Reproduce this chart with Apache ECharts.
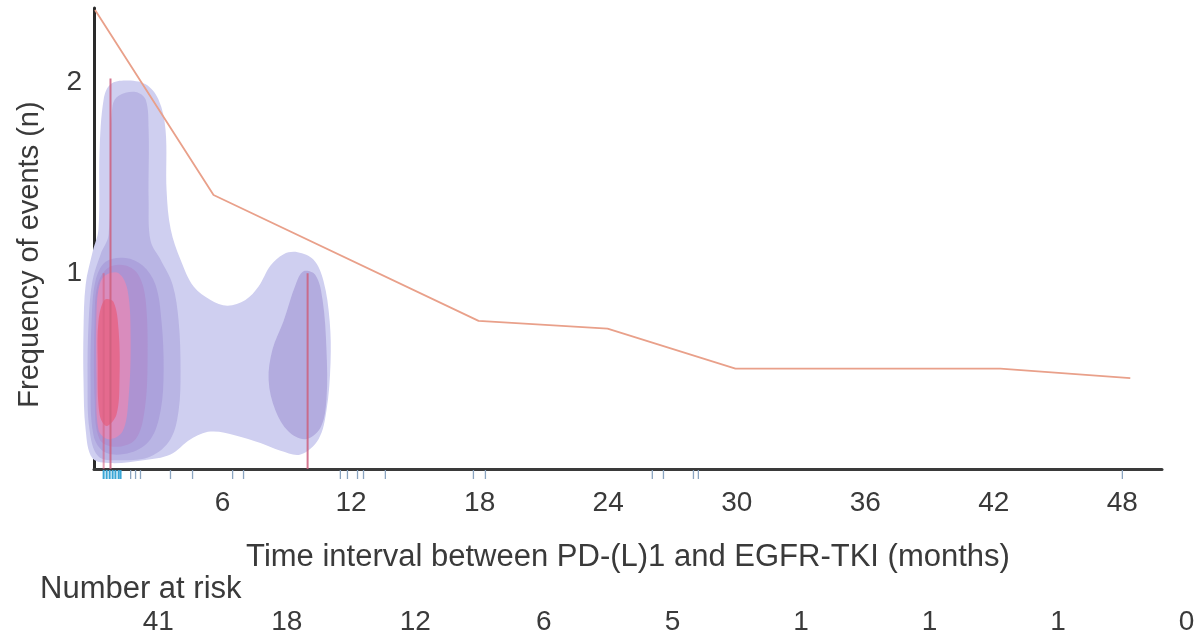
<!DOCTYPE html>
<html>
<head>
<meta charset="utf-8">
<script src="https://cdn.jsdelivr.net/npm/echarts@6/dist/echarts.min.js"></script>
<style>
html,body{margin:0;padding:0;background:#fff;}
#chart{width:1202px;height:636px;}
</style>
</head>
<body>
<div id="chart"></div>
<script>
// ---- data (months, frequency) ----
const xTicks = [6, 12, 18, 24, 30, 36, 42, 48];
const yTicks = [1, 2];

// cumulative-hazard style line
const lineMonths = [0.05, 5.58, 17.95, 23.97, 29.94, 42.3, 48.37];
const lineValues = [2.38, 1.41, 0.75, 0.71, 0.50, 0.50, 0.45];

// event spikes
const eventMonths = [0.77, 0.45, 9.97];
const eventFreq = [2.02, 1.0, 1.0];

// rug of observations
const rugBright = [0.45, 0.59, 0.73, 0.87, 1.0, 1.15, 1.24];
const rugPale = [1.71, 1.94, 2.17, 3.57, 4.6, 6.47, 6.98, 11.5, 11.83, 12.3, 12.58, 13.6,
                 17.71, 18.27, 26.06, 26.58, 27.98, 28.21, 48.0];

// density contours (outer -> inner)
const contour1 = [[1.47,2.01],[2.41,1.99],[3.01,1.91],[3.34,1.75],[3.39,1.43],[3.58,1.23],[4.04,1.07],
  [4.65,0.93],[5.44,0.86],[6.23,0.83],[7.07,0.86],[7.68,0.93],[8.24,1.04],[8.85,1.10],[9.50,1.11],
  [10.25,1.07],[10.71,0.96],[11.0,0.75],[11.04,0.53],[10.85,0.28],[10.48,0.13],[9.64,0.05],[8.71,0.07],
  [7.77,0.11],[6.61,0.15],[5.44,0.17],[4.51,0.13],[3.57,0.05],[2.31,0.02],[0.77,0.005],[-0.07,0.03],
  [-0.39,0.18],[-0.49,0.44],[-0.49,0.70],[-0.39,0.94],[-0.07,1.11],[0.21,1.23],[0.26,1.64],[0.45,1.91],[0.77,1.99]];
const contour2 = [[1.15,1.93],[1.94,1.95],[2.41,1.91],[2.55,1.75],[2.55,1.38],[2.64,1.17],[3.11,1.07],
  [3.67,0.94],[3.95,0.75],[4.04,0.49],[3.95,0.28],[3.57,0.13],[2.64,0.04],[1.24,0.02],[0.21,0.04],
  [-0.21,0.18],[-0.30,0.44],[-0.25,0.75],[-0.07,0.96],[0.31,1.10],[0.68,1.20],[0.77,1.64],[0.87,1.88]];
const contour2b = [[9.78,1.01],[10.34,0.99],[10.67,0.86],[10.85,0.60],[10.85,0.34],[10.57,0.19],[9.87,0.13],
  [9.08,0.17],[8.47,0.28],[8.15,0.44],[8.33,0.60],[8.85,0.75],[9.41,0.94]];
const contour3 = [[0.54,1.06],[1.47,1.08],[2.27,1.04],[2.87,0.94],[3.15,0.75],[3.25,0.49],[3.11,0.28],
  [2.64,0.13],[1.71,0.06],[0.54,0.06],[-0.02,0.15],[-0.16,0.44],[-0.11,0.75],[0.07,0.96]];
const contour4 = [[0.68,1.03],[1.47,1.04],[2.08,0.99],[2.41,0.86],[2.50,0.54],[2.36,0.28],[1.94,0.13],
  [1.01,0.09],[0.26,0.13],[0.03,0.34],[0.03,0.75],[0.17,0.94]];
const contour5 = [[0.54,0.99],[1.15,1.00],[1.57,0.91],[1.71,0.65],[1.61,0.34],[1.33,0.17],[0.68,0.13],
  [0.21,0.18],[0.12,0.44],[0.12,0.81],[0.26,0.94]];
const contour6 = [[0.49,0.86],[0.91,0.85],[1.15,0.70],[1.19,0.44],[1.05,0.26],[0.59,0.20],[0.26,0.26],
  [0.17,0.54],[0.21,0.75]];

// number at risk
const riskMonths = [3, 9, 15, 21, 27, 33, 39, 45, 51];
const riskCounts = [41, 18, 12, 6, 5, 1, 1, 1, 0];

// ---- styles ----
const FONT = "'Liberation Sans', Arial, Helvetica, sans-serif";
const TXT = '#3a3a3a';
const layers = [
  {pts: contour1, color: '#cfcff0'},
  {pts: contour2, color: '#b9b5e4'},
  {pts: contour2b, color: '#b3acdf'},
  {pts: contour3, color: '#aca2dc'},
  {pts: contour4, color: '#ad93d2'},
  {pts: contour5, color: '#d98cbd'},
  {pts: contour6, color: '#e46a8e'}
];

const chart = echarts.init(document.getElementById('chart'), null, {renderer: 'canvas'});
const X_MIN = 0, X_MAX = 49.85, Y_MIN = -0.026, Y_MAX = 2.39;

const option = {
  animation: false,
  backgroundColor: '#ffffff',
  grid: [
    {left: 94, right: 40, top: 8, bottom: 167, containLabel: false, outerBoundsMode: 'none'},
    {left: 94, right: 40, top: 605, height: 34, containLabel: false, outerBoundsMode: 'none'}
  ],
  xAxis: [
    {
      type: 'value', gridIndex: 0, min: X_MIN, max: X_MAX, interval: 6,
      axisLine: {show: true, onZero: false, lineStyle: {color: '#3a3a3a', width: 3}},
      axisTick: {show: false},
      splitLine: {show: false},
      axisLabel: {
        customValues: xTicks, margin: 20, color: TXT, fontSize: 28, fontFamily: FONT
      },
      name: 'Time interval between PD-(L)1 and EGFR-TKI (months)',
      nameLocation: 'middle', nameGap: 73,
      nameTextStyle: {color: TXT, fontSize: 31, fontFamily: FONT}
    },
    {type: 'value', gridIndex: 1, min: X_MIN, max: X_MAX, show: false}
  ],
  yAxis: [
    {
      type: 'value', gridIndex: 0, min: Y_MIN, max: Y_MAX,
      axisLine: {show: true, onZero: false, lineStyle: {color: '#2a2a2a', width: 3}},
      axisTick: {show: false},
      splitLine: {show: false},
      axisLabel: {customValues: yTicks, margin: 12, color: TXT, fontSize: 28, fontFamily: FONT},
      name: 'Frequency of events (n)', nameLocation: 'middle', nameGap: 50,
      nameTextStyle: {color: TXT, fontSize: 29, fontFamily: FONT, padding: [0, 32, 0, 0]}
    },
    {type: 'value', gridIndex: 1, min: 0, max: 1, show: false}
  ],
  graphic: [
    {type: 'text', left: 40, top: 574, style: {text: 'Number at risk', fill: TXT, font: '31px ' + FONT}}
  ],
  series: [
    {
      type: 'custom', xAxisIndex: 0, yAxisIndex: 0, clip: false, z: 1,
      data: layers.map((l, i) => [i, 0]),
      renderItem: function (params, api) {
        const l = layers[params.dataIndex];
        const points = l.pts.map(p => api.coord(p));
        return {type: 'polygon', shape: {points: points, smooth: 0.35}, style: {fill: l.color}};
      }
    },
    {
      type: 'custom', xAxisIndex: 0, yAxisIndex: 0, clip: false, z: 3,
      data: eventMonths.map((m, i) => [m, eventFreq[i]]),
      renderItem: function (params, api) {
        const top = api.coord([api.value(0), api.value(1)]);
        const bot = api.coord([api.value(0), Y_MIN]);
        return {type: 'line', shape: {x1: top[0], y1: top[1], x2: bot[0], y2: bot[1]},
          style: {stroke: params.dataIndex === 1 ? 'rgba(214,96,130,0.6)' : 'rgba(205,95,125,0.85)', lineWidth: 2}};
      }
    },
    {
      type: 'custom', xAxisIndex: 0, yAxisIndex: 0, clip: false, z: 3,
      data: rugBright.map(m => [m, 0, 1]).concat(rugPale.map(m => [m, 0, 0])),
      renderItem: function (params, api) {
        const p = api.coord([api.value(0), Y_MIN]);
        const bright = api.value(2) === 1;
        return {type: 'line', shape: {x1: p[0], y1: p[1] + 1, x2: p[0], y2: p[1] + 10},
          style: {stroke: bright ? '#3aa6d6' : '#8aa4c0', lineWidth: bright ? 2 : 1.3}};
      }
    },
    {
      type: 'line', xAxisIndex: 0, yAxisIndex: 0, z: 4,
      data: lineMonths.map((m, i) => [m, lineValues[i]]),
      symbol: 'none', lineStyle: {color: '#e9a08a', width: 1.8}
    },
    {
      type: 'custom', xAxisIndex: 1, yAxisIndex: 1, clip: false,
      data: riskMonths.map((m, i) => [m, 0.5, riskCounts[i]]),
      renderItem: function (params, api) {
        const p = api.coord([api.value(0), api.value(1)]);
        return {type: 'text', x: p[0], y: p[1],
          style: {text: String(api.value(2)), fill: TXT, font: '28px ' + FONT, align: 'center', verticalAlign: 'middle'}};
      }
    }
  ]
};
chart.setOption(option);
</script>
</body>
</html>
